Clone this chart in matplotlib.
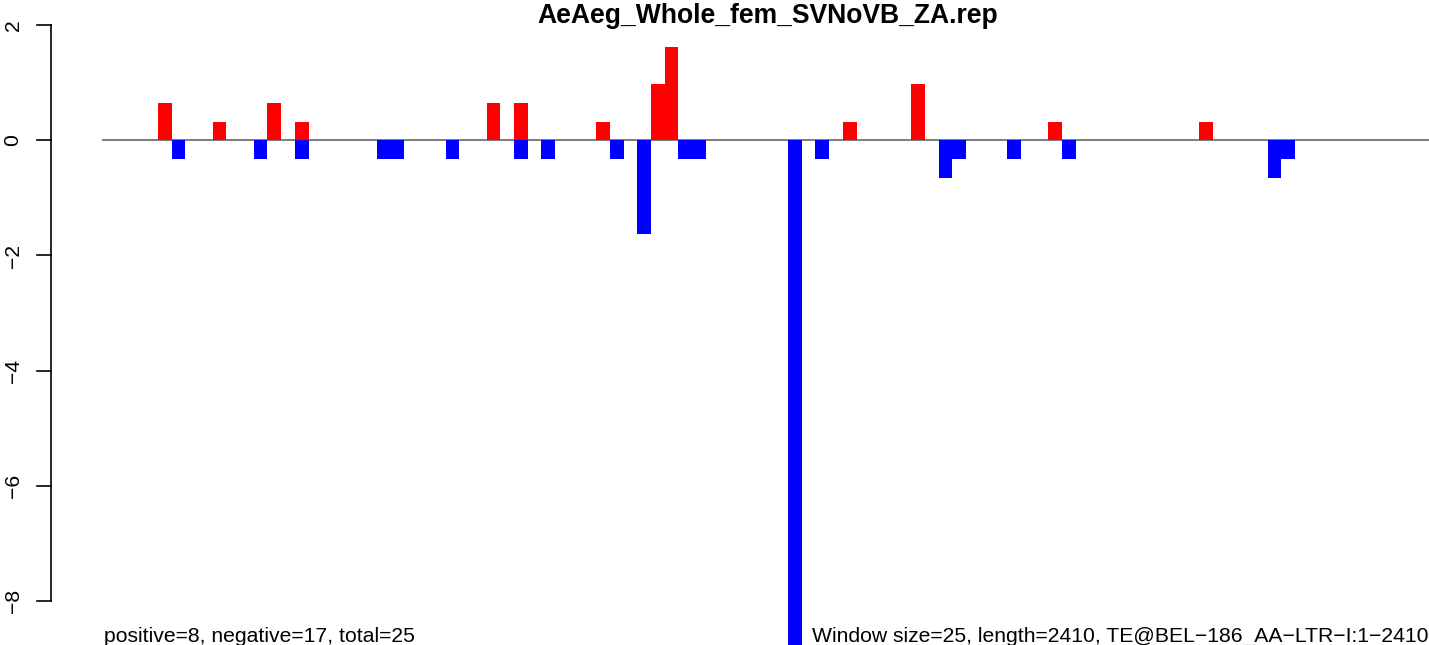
import matplotlib
matplotlib.use("Agg")
import matplotlib.pyplot as plt

plt.rcParams['font.family'] = ['Liberation Sans', 'DejaVu Sans']

title = "AeAeg_Whole_fem_SVNoVB_ZA.rep"
left_note = "positive=8, negative=17, total=25"
right_note = "Window size=25, length=2410, TE@BEL\u2212186_AA\u2212LTR\u2212I:1\u22122410"

# window index (first bar at window 4) and value
pos_win = [4, 8, 12, 14, 28, 30, 36, 40, 41, 54, 59, 69, 80]
pos_val = [0.65, 0.325, 0.65, 0.325, 0.65, 0.65, 0.325, 0.975, 1.625, 0.325, 0.975, 0.325, 0.325]
neg_win = [5, 11, 14, 20, 21, 25, 30, 32, 37, 39, 42, 43, 50, 52, 61, 62, 66, 70, 85, 86]
neg_val = [-0.325, -0.325, -0.325, -0.325, -0.325, -0.325, -0.325, -0.325, -0.325, -1.625,
           -0.325, -0.325, -9.0, -0.325, -0.65, -0.325, -0.325, -0.325, -0.65, -0.325]
yticks = [2, 0, -2, -4, -6, -8]

fig = plt.figure(figsize=(14.29, 6.45), dpi=100)
ax = fig.add_axes([0, 0, 1, 1])
ax.set_xlim(-103 / 13.7, (1429 - 103) / 13.7)
ax.set_ylim((140.5 - 645) / 57.5, 140.5 / 57.5)
ax.axis('off')

ax.plot([0, 110], [0, 0], color='#666666', lw=1.2, zorder=1)
ax.bar(pos_win, pos_val, width=1, align='edge', color='#ff0000', zorder=2)
ax.bar(neg_win, neg_val, width=1, align='edge', color='#0000ff', zorder=2)

# y axis drawn R style
xa = (50.5 - 103) / 13.7
ax.plot([xa, xa], [-8, 2], color='black', lw=1.2, clip_on=False)
for t in yticks:
    ax.plot([xa - 0.98, xa], [t, t], color='black', lw=1.2)
    ax.text((13 - 103) / 13.7, t, str(t).replace('-', '\u2212'), rotation=90,
            ha='center', va='center', fontsize=15.2)

ax.text(48.5, (140.5 - 22.7) / 57.5, title, ha='center', va='baseline',
        fontsize=19.1, fontweight='bold')
ax.text(0.05, (140.5 - 642) / 57.5, left_note, ha='left', va='baseline', fontsize=15.2)
ax.text((812 - 103) / 13.7, (140.5 - 642) / 57.5, right_note, ha='left', va='baseline',
        fontsize=15.2)

fig.savefig('out.png', dpi=100)
